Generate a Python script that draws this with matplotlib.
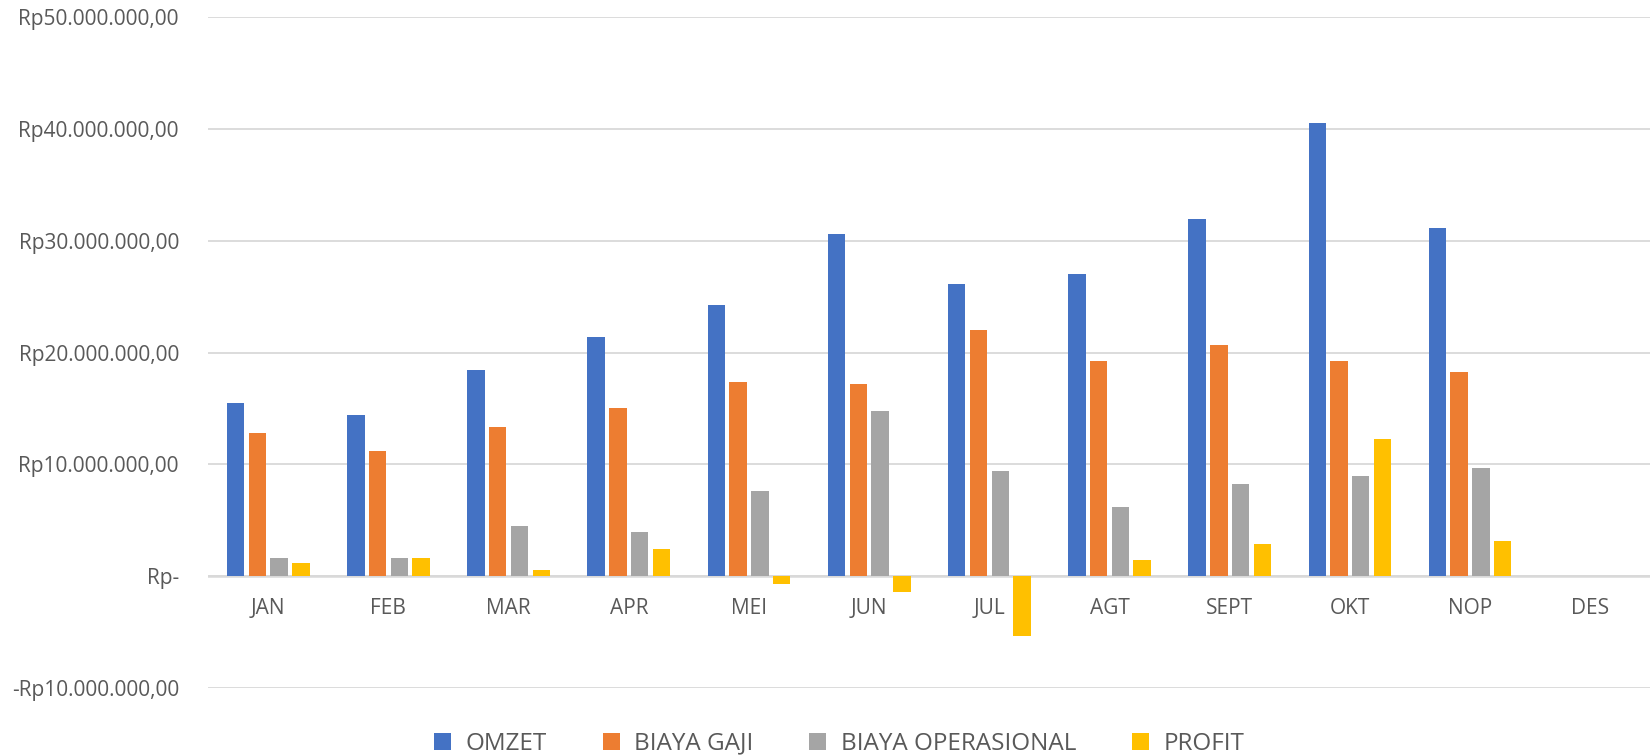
import numpy as np
import matplotlib
matplotlib.use("Agg")
import matplotlib.pyplot as plt
from matplotlib.ticker import FuncFormatter, MultipleLocator

months = ["JAN", "FEB", "MAR", "APR", "MEI", "JUN", "JUL", "AGT", "SEPT", "OKT", "NOP", "DES"]
series_names = ["OMZET", "BIAYA GAJI", "BIAYA OPERASIONAL", "PROFIT"]

# values in Rupiah, DES is empty
omzet = [15.47e6, 14.37e6, 18.42e6, 21.37e6, 24.26e6, 30.57e6, 26.17e6, 26.99e6, 31.92e6, 40.53e6, 31.17e6, np.nan]
biaya_gaji = [12.76e6, 11.18e6, 13.38e6, 15.02e6, 17.35e6, 17.17e6, 22.06e6, 19.26e6, 20.71e6, 19.23e6, 18.29e6, np.nan]
biaya_ops = [1.58e6, 1.58e6, 4.50e6, 3.96e6, 7.60e6, 14.75e6, 9.40e6, 6.16e6, 8.26e6, 8.99e6, 9.71e6, np.nan]
profit = [1.13e6, 1.64e6, 0.54e6, 2.38e6, -0.69e6, -1.45e6, -5.40e6, 1.45e6, 2.83e6, 12.29e6, 3.11e6, np.nan]

colors = ["#4472C4", "#ED7D31", "#A5A5A5", "#FFC000"]
text_color = "#595959"
grid_color = "#D9D9D9"

plt.rcParams['font.family'] = ['Open Sans', 'DejaVu Sans']

def rupiah(v, pos):
    if abs(v) < 1:
        return "Rp-"
    s = f"{abs(v):,.2f}".replace(",", "X").replace(".", ",").replace("X", ".")
    return ("-Rp" if v < 0 else "Rp") + s

fig = plt.figure(figsize=(16.52, 7.55), dpi=100)
ax = fig.add_axes([0.126, 0.089, 0.873, 0.888])

x = np.arange(len(months))
step = 0.181
width = 0.145
for k, (vals, name) in enumerate(zip([omzet, biaya_gaji, biaya_ops, profit], series_names)):
    ax.bar(x + (k - 1.5) * step, vals, width=width, color=colors[k], label=name, zorder=3)

ax.set_xlim(-0.5, 11.5)
ax.set_ylim(-10e6, 50e6)
ax.yaxis.set_major_locator(MultipleLocator(10e6))
ax.yaxis.set_major_formatter(FuncFormatter(rupiah))
ax.grid(axis="y", color=grid_color, linewidth=1.3, zorder=0)
ax.axhline(0, color=grid_color, linewidth=1.8, zorder=2)
for sp in ax.spines.values():
    sp.set_visible(False)
ax.tick_params(axis="y", length=0, pad=21, labelsize=15, labelcolor=text_color)
ax.set_xticks([])

# month labels sit under the zero line, like Excel does
for i, m in enumerate(months):
    ax.annotate(m, (i, 0), xytext=(0, -15.5), textcoords="offset points",
                ha="center", va="top", fontsize=15, color=text_color)

leg = fig.legend(loc="center", bbox_to_anchor=(0.508, 0.015), ncol=4, frameon=False,
                 fontsize=17.5, handlelength=0.7, handleheight=0.7, handletextpad=0.6,
                 columnspacing=2.3)
for t in leg.get_texts():
    t.set_color(text_color)

fig.savefig("out.png", dpi=100)
